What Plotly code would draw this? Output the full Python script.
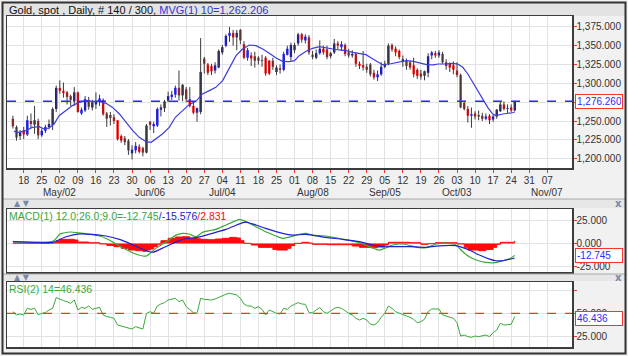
import plotly.graph_objects as go

W, H = 628, 356

# ---------------- data ----------------
# trading-day index 0 = 2016-04-13 ... 139 = 2016-10-25
opens = [1253,1242,1230,1238,1232,1250,1245,1250,1231,1237,1242,1245,1266,1294,1290,1288,1283,1276,1288,1260,
         1264,1278,1268,1272,1275,1278,1260,1258,1255,1251,1230,1227,1224,1207,1211,1216,1214,1208,1249,1243,
         1244,1265,1267,1277,1282,1285,1294,1284,1292,1279,1270,1261,1262,1333,1325,1323,1317,1321,1341,1350,
         1363,1367,1361,1371,1352,1334,1337,1336,1334,1330,1334,1330,1330,1315,1320,1318,1338,1335,1344,1353,
         1365,1357,1361,1338,1334,1340,1346,1345,1336,1341,1353,1348,1351,1341,1337,1339,1326,1324,1322,1325,
         1314,1308,1312,1322,1326,1351,1346,1343,1329,1330,1328,1324,1318,1313,1310,1314,1337,1340,1337,1339,
         1328,1327,1324,1317,1311,1274,1266,1257,1260,1258,1257,1253,1257,1252,1256,1263,1272,1266,1268,1264]
highs = [1257,1244,1238,1242,1257,1260,1270,1253,1240,1245,1252,1268,1297,1304,1301,1290,1285,1295,1289,1268,
         1283,1282,1278,1288,1285,1280,1262,1262,1259,1251,1232,1230,1226,1218,1222,1219,1216,1246,1250,1249,
         1268,1272,1278,1289,1290,1297,1317,1299,1295,1295,1276,1268,1360,1335,1327,1326,1328,1345,1351,1365,
         1375,1371,1371,1372,1356,1347,1341,1342,1336,1338,1336,1331,1334,1324,1325,1342,1350,1354,1354,1367,
         1367,1365,1364,1343,1345,1357,1350,1350,1342,1359,1356,1356,1353,1346,1344,1341,1329,1343,1326,1327,
         1318,1317,1328,1330,1353,1353,1349,1345,1337,1333,1330,1334,1320,1318,1317,1340,1343,1343,1344,1342,
         1332,1328,1329,1328,1313,1277,1270,1268,1263,1264,1261,1260,1259,1258,1266,1276,1276,1272,1272,1277]
lows = [1240,1224,1225,1226,1230,1240,1233,1226,1229,1234,1239,1238,1262,1286,1281,1272,1270,1270,1261,1258,
        1262,1265,1264,1266,1270,1257,1242,1244,1246,1224,1221,1218,1205,1199,1207,1207,1203,1207,1238,1234,
        1242,1256,1262,1275,1278,1281,1277,1276,1275,1268,1259,1249,1259,1313,1311,1311,1313,1320,1338,1348,
        1355,1350,1344,1352,1332,1330,1323,1321,1325,1322,1310,1311,1318,1311,1313,1316,1337,1330,1340,1350,
        1354,1353,1338,1332,1332,1338,1338,1332,1333,1339,1345,1343,1336,1334,1334,1322,1319,1317,1314,1309,
        1305,1303,1310,1320,1324,1342,1336,1332,1322,1318,1318,1308,1306,1305,1304,1308,1332,1334,1334,1326,
        1318,1315,1312,1308,1267,1264,1248,1241,1252,1251,1250,1251,1246,1249,1253,1262,1264,1260,1262,1263]
closes = [1243,1228,1235,1232,1251,1246,1251,1231,1237,1242,1246,1266,1294,1290,1287,1282,1278,1288,1262,1265,
          1279,1269,1275,1277,1280,1259,1253,1254,1250,1226,1224,1222,1211,1212,1217,1209,1208,1244,1245,1246,
          1266,1268,1276,1283,1285,1294,1284,1298,1279,1270,1261,1267,1315,1326,1314,1316,1324,1343,1348,1363,
          1367,1361,1367,1357,1334,1344,1333,1330,1330,1331,1313,1313,1322,1321,1318,1339,1346,1351,1351,1365,
          1358,1362,1341,1335,1340,1346,1341,1335,1340,1353,1350,1352,1339,1337,1339,1326,1323,1321,1318,1312,
          1308,1312,1322,1326,1350,1345,1341,1335,1332,1323,1321,1312,1310,1309,1316,1336,1341,1337,1341,1328,
          1323,1321,1318,1311,1268,1266,1257,1259,1256,1256,1253,1256,1251,1256,1265,1272,1266,1267,1264,1276.26]

# 10-day moving average (MVG)
ma_idx = [0.3, 1.7, 3.6, 5.4, 7.3, 8.6, 10, 11.4, 12.8, 14.7, 16.5, 18.4, 20.2, 22.1, 23.9, 25.8, 27.6, 29.5,
          31.3, 33.2, 35, 36.9, 38.3, 39.6, 41.4, 43.3, 45, 47, 48.8, 50.7, 52.5, 54.4, 56.2, 58.1, 59.9, 61.8,
          63.6, 65.5, 67.3, 69.2, 71, 72.9, 74.7, 76.6, 78, 79.3, 81.2, 83, 84.9, 86.7, 88.6, 90.4, 92.3, 94.1,
          96, 97.8, 99.7, 101.5, 102.4, 104.3, 107.2, 109, 110.9, 112.8, 114.6, 116.5, 117.8, 120, 121.8, 123.2,
          124.6, 126, 127.4, 128.7, 130.1, 131.5, 132.9, 133.8, 135.7, 137.6, 138.7, 139]
ma_val = [1236.3, 1235.0, 1237.2, 1241.6, 1242.5, 1239.4, 1240.7, 1246.0, 1257.1, 1263.7, 1270.4, 1274.8, 1277.0,
          1276.1, 1276.1, 1273.5, 1268.1, 1259.3, 1248.2, 1237.2, 1228.3, 1222.6, 1221.7, 1226.1, 1232.7, 1241.6,
          1254.9, 1263.7, 1271.7, 1276.1, 1285.9, 1290.3, 1294.7, 1303.6, 1319.0, 1336.8, 1345.6, 1350.9, 1350.0,
          1345.6, 1339.9, 1333.7, 1329.2, 1328.8, 1330.1, 1336.8, 1342.5, 1346.5, 1348.7, 1346.9, 1345.6, 1344.3,
          1343.4, 1341.2, 1339.9, 1338.1, 1332.3, 1326.6, 1324.8, 1325.7, 1327.9, 1330.1, 1329.2, 1326.6, 1324.8,
          1324.4, 1325.7, 1325.7, 1326.6, 1325.7, 1321.3, 1312.4, 1301.4, 1290.3, 1279.2, 1268.1, 1259.3, 1257.1,
          1259.3, 1260.2, 1261.3, 1262.206]

# MACD line (green)
macd_idx = [0, 3, 6, 9, 11, 12, 13, 14, 16, 18, 20, 22, 24, 26, 28, 30, 32, 34, 36, 37, 38, 39.6, 41.4, 43.3,
            45, 47, 48.8, 50.7, 52.5, 54.4, 56.2, 59, 61.8, 62.7, 64.6, 67.3, 70, 72.9, 74.7, 77.5, 79.3, 81.2,
            83, 86.7, 91.3, 96, 100.6, 101.6, 103.4, 105.2, 108, 112.6, 114.5, 117.3, 120.9, 122.7, 124.6,
            126.4, 128.3, 131, 133.4, 135.7, 137.6, 139]
macd_val = [2.0, 1.6, 1.3, 1.6, 2.3, 5.6, 10.2, 11.3, 12.4, 11.6, 10.6, 9.5, 8.1, 5.2, 0.9, -3.8, -7.7, -11.3,
            -13.4, -13.4, -10.6, -5.2, -0.9, 3.8, 8.8, 10.9, 10.2, 7.3, 12.0, 13.8, 15.2, 19.9, 24.6, 26.0, 23.5,
            18.1, 12.7, 8.1, 5.6, 8.0, 9.8, 10.9, 9.1, 8.1, 4.8, 0.9, -6.3, -7.0, -4.5, -1.6, -0.5, -4.5, -4.5,
            -0.5, 0.2, -1.6, -8.8, -14.2, -17.7, -20.3, -20.6, -18.5, -16.3, -12.745]

# signal line (blue)
sig_idx = [0, 6, 11, 14.7, 17.9, 22, 25.8, 29.5, 32.3, 35, 37.8, 39, 42.3, 47, 50.7, 53.5, 59, 63.7, 64.6,
           67.3, 70, 74.7, 77.5, 81.2, 86.7, 91.3, 96, 99.7, 102.4, 105, 109.8, 114.5, 117.3, 122.7, 126.4,
           129.2, 132, 133.8, 135.7, 139]
sig_val = [2.0, 1.3, 1.3, 7.3, 10.2, 9.9, 8.1, 4.5, 0.2, -4.5, -8.8, -9.2, -3.4, 4.5, 6.3, 9.1, 15.2, 22.4,
           23.1, 19.9, 16.3, 10.9, 9.0, 9.9, 6.6, 4.5, 2.0, -1.6, -3.4, -3.4, -3.4, -4.1, -2.7, -2.3, -7.0,
           -12.4, -16.7, -18.5, -18.5, -15.576]

# MACD histogram (red)
hist_idx = [0, 5, 10, 11, 12, 13, 15, 17, 18, 21, 24, 26, 28, 30, 32, 34, 36, 37, 38, 39, 40, 41, 43, 45, 47,
            49, 51, 52, 54, 56, 58, 60, 62, 63, 64, 66, 68, 72, 73, 76, 77, 78, 80, 82, 83, 87, 91, 94, 96, 99,
            101, 103, 104, 107, 110, 113, 115, 117, 121, 123, 125, 126, 129, 131, 133, 134, 135, 137, 139]
hist_val = [0.5, 0.3, 0.6, 0.9, 3.0, 4.5, 4.5, 3.8, 1.6, 0.9, -0.5, -2.0, -3.4, -5.2, -7.0, -7.7, -8.4, -7.0,
            -5.9, -3.4, -0.9, 3.0, 5.6, 7.0, 7.3, 5.9, 5.2, 4.5, 4.1, 4.8, 5.6, 6.6, 5.9, 3.0, 0.2, -1.6, -4.1,
            -6.3, -7.0, -5.2, -2.3, 0.2, 1.3, 0.5, -0.9, -1.3, -1.3, -2.7, -4.1, -4.5, -3.8, -1.6, 1.3, 1.3, 0.9,
            -0.9, -0.2, 0.9, 0.9, -0.5, -4.1, -7.0, -7.7, -6.3, -4.1, -0.9, 1.3, 1.3, 2.831]

# RSI(14), one value per bar
rsi_val = [51.8, 48.2, 49.3, 48.2, 55.5, 54.4, 55.5, 48.5, 50.0, 50.7, 53.7, 55.5, 67.3, 65.4, 64.0, 62.9, 61.0,
           64.7, 53.7, 56.6, 55.5, 58.1, 54.4, 55.5, 56.6, 48.2, 46.3, 45.6, 44.5, 37.1, 36.0, 35.3, 33.5, 32.7,
           35.3, 34.2, 32.7, 50.0, 51.8, 50.0, 58.1, 60.3, 61.8, 64.7, 65.8, 66.5, 62.9, 64.7, 57.4, 53.7, 50.7,
           50.0, 66.5, 65.4, 64.7, 64.7, 65.8, 67.6, 69.1, 71.0, 72.1, 71.3, 70.2, 66.5, 60.3, 58.1, 58.1, 55.5,
           57.4, 54.4, 48.2, 53.7, 51.8, 50.0, 49.3, 55.5, 54.4, 58.1, 59.9, 61.8, 60.3, 59.9, 50.7, 50.7, 53.7,
           56.3, 51.8, 50.0, 52.6, 55.5, 56.6, 55.5, 52.9, 50.0, 48.2, 44.5, 42.6, 44.5, 42.6, 38.2, 37.1, 39.7,
           45.6, 50.0, 58.1, 55.5, 51.8, 50.0, 48.2, 47.1, 45.6, 43.4, 39.7, 40.8, 43.4, 51.8, 54.8, 54.8, 54.8,
           48.2, 47.1, 46.3, 44.5, 39.7, 25.0, 26.1, 24.3, 23.5, 25.0, 24.3, 25.0, 26.1, 24.3, 28.7, 31.6, 39.0,
           37.1, 37.1, 37.9, 46.436]

# axis ticks
week_labels = ["18", "25", "02", "09", "16", "23", "30", "06", "13", "20", "27", "04", "11", "18", "25",
               "01", "08", "15", "22", "29", "05", "12", "19", "26", "03", "10", "17", "24", "31", "07"]
week_idx = [3 + 5 * k for k in range(len(week_labels))]
month_labels = ["May/02", "Jun/06", "Jul/04", "Aug/08", "Sep/05", "Oct/03", "Nov/07"]
month_idx = [13, 38, 58, 83, 103, 123, 148]
price_ticks = [1200, 1225, 1250, 1275, 1300, 1325, 1350, 1375]
macd_ticks = [25, 0, -25]
rsi_ticks = [25, 50, 75]

# ---------------- figure ----------------
n = len(closes)
idx = list(range(n))
FONT = "Liberation Sans, Arial, sans-serif"
BLUE = "#0a0aff"
RED = "#ff0a0a"
GREEN = "#3aa83a"
SIGBLUE = "#2020d0"

fig = go.Figure()

# wicks
wx, wy = [], []
for i in idx:
    wx += [i, i, None]
    wy += [lows[i], highs[i], None]
fig.add_trace(go.Scatter(x=wx, y=wy, mode="lines", line=dict(color="#3a3a3a", width=1),
                         hoverinfo="skip", xaxis="x", yaxis="y"))
# bodies
base = [min(o, c) for o, c in zip(opens, closes)]
hgt = [max(abs(c - o), 0.7) for o, c in zip(opens, closes)]
cols = [BLUE if c >= o else RED for o, c in zip(opens, closes)]
fig.add_trace(go.Bar(x=idx, y=hgt, base=base, width=0.66, marker=dict(color=cols, line=dict(width=0)),
                     xaxis="x", yaxis="y"))
# moving average
fig.add_trace(go.Scatter(x=ma_idx, y=ma_val, mode="lines", line=dict(color="#3c3cdc", width=1.2),
                         xaxis="x", yaxis="y"))

# MACD panel
fig.add_trace(go.Scatter(x=hist_idx, y=hist_val, mode="lines", line=dict(color=RED, width=1, shape="hv"),
                         fill="tozeroy", fillcolor=RED, xaxis="x2", yaxis="y2"))
fig.add_trace(go.Scatter(x=macd_idx, y=macd_val, mode="lines",
                         line=dict(color=GREEN, width=1.2, shape="spline", smoothing=0.6),
                         xaxis="x2", yaxis="y2"))
fig.add_trace(go.Scatter(x=sig_idx, y=sig_val, mode="lines",
                         line=dict(color=SIGBLUE, width=1.2, shape="spline", smoothing=0.6),
                         xaxis="x2", yaxis="y2"))

# RSI panel
fig.add_trace(go.Scatter(x=idx, y=rsi_val, mode="lines", line=dict(color=GREEN, width=1),
                         xaxis="x3", yaxis="y3"))


def py(p):
    return 1 - p / H


def pxx(p):
    return p / W


xr = [-1.63, 154.85]
xdom = [pxx(7), pxx(572)]
grid = "#e2e2e2"
frame = "#3c3c3c"

common_x = dict(range=xr, domain=xdom, tickmode="array", tickvals=week_idx, showgrid=True, gridcolor=grid,
                gridwidth=1, zeroline=False, showline=True, mirror=True, linecolor=frame, linewidth=1.5,
                fixedrange=True)
common_y = dict(side="right", tickmode="array", ticks="outside", ticklen=3, tickcolor="#ff3030",
                showgrid=True, gridcolor=grid, zeroline=False, showline=True, mirror=True, linecolor=frame,
                linewidth=1.5, fixedrange=True, ticklabelstandoff=-2, tickfont=dict(size=10, color="#333333"))

fig.update_layout(
    width=W, height=H, margin=dict(l=0, r=0, t=0, b=0), autosize=False,
    paper_bgcolor="#f1f1f1", plot_bgcolor="#ffffff", showlegend=False, barmode="overlay",
    font=dict(family=FONT, size=10, color="#333333"),
    xaxis=dict(common_x, anchor="y", ticktext=week_labels, ticks="outside", ticklen=3, tickcolor="#ff3030",
               ticklabelstandoff=-1, tickfont=dict(size=10, color="#333333")),
    xaxis2=dict(common_x, anchor="y2", showticklabels=False, ticks=""),
    xaxis3=dict(common_x, anchor="y3", showticklabels=False, ticks=""),
    yaxis=dict(common_y, domain=[py(168), py(16)], range=[1187.6, 1389.4], tickvals=price_ticks,
               ticktext=[f"{v:,.3f}" for v in price_ticks], anchor="x"),
    yaxis2=dict(common_y, domain=[py(272), py(209)], range=[-30.6, 37.1], tickvals=macd_ticks,
                ticktext=[f"{v:.3f}" for v in macd_ticks], anchor="x2"),
    yaxis3=dict(common_y, domain=[py(347), py(282)], range=[12.9, 84.5], tickvals=rsi_ticks,
                ticktext=[f"{v:.3f}" if v != 75 else "" for v in rsi_ticks], anchor="x3"),
)

shapes = []
# title bar and separators
shapes.append(dict(type="rect", xref="paper", yref="paper", x0=pxx(3), x1=pxx(625), y0=py(16), y1=py(3),
                   fillcolor="#e3e3e3", line=dict(width=0), layer="below"))
for y0, y1 in [(199, 208), (274, 281)]:
    shapes.append(dict(type="rect", xref="paper", yref="paper", x0=pxx(3), x1=pxx(625), y0=py(y1), y1=py(y0),
                       fillcolor="#e6e6e6", line=dict(width=0), layer="below"))
    shapes.append(dict(type="line", xref="paper", yref="paper", x0=pxx(3), x1=pxx(625), y0=py(y0), y1=py(y0),
                       line=dict(color="#a8a8a8", width=1)))
# outer frame
shapes.append(dict(type="rect", xref="paper", yref="paper", x0=pxx(2.5), x1=pxx(625.5), y0=py(353.5),
                   y1=py(2.5), line=dict(color="#333333", width=2)))
# last price dashed line
shapes.append(dict(type="line", xref="x domain", yref="y", x0=0, x1=1, y0=closes[-1], y1=closes[-1],
                   line=dict(color="#2a2aff", width=1.4, dash="dash")))
# RSI 50 line
shapes.append(dict(type="line", xref="x3 domain", yref="y3", x0=0, x1=1, y0=50, y1=50,
                   line=dict(color="#ff3030", width=1.2, dash="dash")))
fig.update_layout(shapes=shapes)

ann = []
ann.append(dict(xref="paper", yref="paper", x=pxx(7), y=py(9.5), xanchor="left", yanchor="middle",
                showarrow=False, font=dict(size=11, color="#111111"),
                text="Gold, spot , Daily, # 140 / 300, <span style='color:#3434d0'>MVG(1) 10=1,262.206</span>"))
ann.append(dict(xref="paper", yref="paper", x=pxx(7), y=py(215.5), xanchor="left", yanchor="middle",
                showarrow=False, font=dict(size=10.5, color=GREEN),
                text=f"MACD(1) 12.0;26.0;9.0={macd_val[-1]:.3f}<span style='color:{SIGBLUE}'>/{sig_val[-1]:.3f}</span>"
                     f"<span style='color:{RED}'>/{hist_val[-1]:.3f}</span>"))
ann.append(dict(xref="paper", yref="paper", x=pxx(7), y=py(289), xanchor="left", yanchor="middle",
                showarrow=False, font=dict(size=10.5, color=GREEN), text=f"RSI(2) 14={rsi_val[-1]:.3f}"))
# value boxes
for yref, val, txt, ys in [("y", closes[-1], f"{closes[-1]:,.3f}", 0),
                           ("y2", macd_val[-1], f"{macd_val[-1]:.3f}", 0),
                           ("y3", rsi_val[-1], f"{rsi_val[-1]:.3f}", -2)]:
    ann.append(dict(xref="paper", yref=yref, x=pxx(575), y=val, xanchor="left", yanchor="middle", yshift=ys,
                    showarrow=False, text=txt, font=dict(size=10, color="#2a2aff"), bgcolor="#ffffff",
                    bordercolor="#ff3030", borderwidth=1, borderpad=1, width=44, align="left"))
# month labels
for m, mi in zip(month_labels, month_idx):
    ann.append(dict(xref="x", yref="paper", x=mi, y=py(192), xanchor="center", yanchor="middle",
                    showarrow=False, text=m, font=dict(size=10, color="#333333")))
# panel arrows / close buttons
for yy in [203.5, 277.5]:
    ann.append(dict(xref="paper", yref="paper", x=pxx(12), y=py(yy), xanchor="left", yanchor="middle",
                    showarrow=False, text="▲ ▼", font=dict(family="DejaVu Sans", size=8, color="#7888aa")))
    ann.append(dict(xref="paper", yref="paper", x=pxx(618), y=py(yy), xanchor="center", yanchor="middle",
                    showarrow=False, text="<b>x</b>", font=dict(family="DejaVu Sans", size=10, color="#7888aa")))
fig.update_layout(annotations=ann)

fig.write_html("out.html", config={"displayModeBar": False, "staticPlot": True},
               post_script="document.body.style.margin='0px';")
